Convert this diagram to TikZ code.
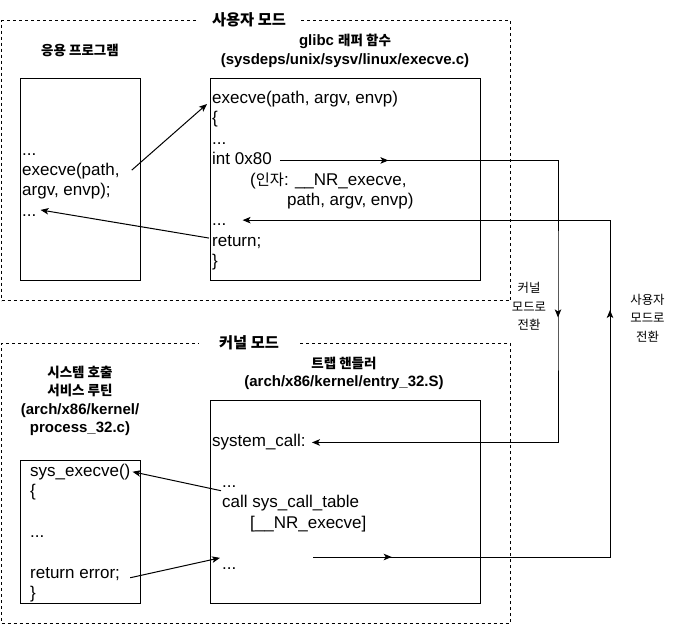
\documentclass[tikz,border=0pt]{standalone}
\usepackage{fontspec}
\setmainfont{Liberation Sans}
\newfontfamily\kr[Scale=0.9]{Noto Sans CJK KR}
\usetikzlibrary{arrows.meta,decorations.markings,calc}
\begin{document}
\begin{tikzpicture}[x=1pt,y=-1pt,
  modebox/.style={draw, line width=1pt, dash pattern=on 3pt off 3pt, inner sep=0pt, anchor=north west},
  codebox/.style={draw, line width=1pt, inner sep=0pt, anchor=north west},
  code/.style={font=\fontsize{17}{20.4}\selectfont, anchor=base west, inner sep=0pt, text height=12.5pt, text depth=4pt},
  ttl/.style={font=\bfseries\fontsize{15}{18.5}\selectfont, align=center, inner sep=0pt},
  modettl/.style={font=\bfseries\fontsize{17}{20}\selectfont\kr, fill=white, minimum width=100pt, inner sep=2pt},
  lbl/.style={font=\fontsize{13.8}{18.5}\selectfont\kr, align=center, inner sep=0pt},
  tipstyle/.tip={Stealth[length=8pt,width=6.5pt,inset=2pt]},
  conn/.style={line width=1pt, -tipstyle},
]
\useasboundingbox (0,0) rectangle (679,624);

% mode boxes
\node[modebox, minimum width=509pt, minimum height=280pt] (user) at (1,20) {};
\node[modebox, minimum width=509pt, minimum height=279.5pt] (kern) at (1,343) {};
\node[modettl] (tuser) at (249,19.5) {사용자 모드};
\node[modettl] (tkern) at (249,342.5) {커널 모드};

% code boxes
\node[codebox, minimum width=120pt, minimum height=202pt] (app) at (20,78) {};
\node[codebox, minimum width=270pt, minimum height=202pt] (glibc) at (210,78) {};
\node[codebox, minimum width=120pt, minimum height=143pt] (svc) at (20,460) {};
\node[codebox, minimum width=270pt, minimum height=203pt] (trap) at (210,400) {};

% titles
\node[ttl] (tapp) at (80,50) {\kr 응용 프로그램};
\node[ttl] (tglibc) at (345,51) {glibc {\kr 래퍼 함수}\\(sysdeps/unix/sysv/linux/execve.c)};
\node[ttl] (tsvc) at (80,401) {{\kr 시스템 호출}\\{\kr 서비스 루틴}\\(arch/x86/kernel/\\process\_32.c)};
\node[ttl] (ttrap) at (344,373.5) {{\kr 트랩 핸들러}\\(arch/x86/kernel/entry\_32.S)};

% app program text
\node[code] (a1) at (22,155) {...};
\node[code] (a2) at (22,175.4) {execve(path,};
\node[code] (a3) at (22,195.8) {argv, envp);};
\node[code] (a4) at (22,216.2) {...};

% glibc text
\node[code] (g1) at (212,103.5) {execve(path, argv, envp)};
\node[code] (g2) at (212,123.9) {\{};
\node[code] (g3) at (212,144.3) {...};
\node[code] (g4) at (212,164.7) {int 0x80};
\node[code] (g5) at (250,185.1) {({\kr 인자}: \_\_NR\_execve,};
\node[code] (g6) at (287,205.5) {path, argv, envp)};
\node[code] (g7) at (212,225.9) {...};
\node[code] (g8) at (212,246.3) {return;};
\node[code] (g9) at (212,266.7) {\}};

% trap handler text
\node[code] (t1) at (212,446.7) {system\_call:};
\node[code] (t3) at (222,487.5) {...};
\node[code] (t4) at (222,507.9) {call sys\_call\_table};
\node[code] (t5) at (250,528.3) {[\_\_NR\_execve]};
\node[code] (t7) at (222,569.1) {...};

% service routine text
\node[code] (s1) at (30,476) {sys\_execve()};
\node[code] (s2) at (30,496.4) {\{};
\node[code] (s4) at (30,537.2) {...};
\node[code] (s6) at (30,578) {return error;};
\node[code] (s7) at (30,598.4) {\}};

% side labels
\node[lbl] (lk) at (529,306.5) {커널\\모드로\\전환};
\node[lbl] (lu) at (647.5,318) {사용자\\모드로\\전환};

% connectors
\draw[conn] ($(a2.east)+(12,-1)$) -- ($(g1.west)+(-5,4.75)$);
\draw[conn] ($(g8.west)+(-3,-4)$) -- ($(a4.east)+(4,-2)$);

\coordinate (kx) at (558,300);
\draw[conn, postaction={decorate}, decoration={markings,
    mark=at position 108.5pt with {\arrow{tipstyle}},
    mark=at position 435pt with {\arrow{tipstyle}}}]
  ($(g4.east)+(8,0)$) -| (kx) |- ($(t1.east)+(6,0)$);

\coordinate (rs) at (313,557);
\coordinate (ux) at (610,400);
\draw[conn, postaction={decorate}, decoration={markings,
    mark=at position 78.7pt with {\arrow{tipstyle}},
    mark=at position 544pt with {\arrow{tipstyle}}}]
  (rs) -| (ux) |- ($(g7.east)+(16,-1.5)$);

\draw[conn] ($(t3.south west)+(-1,-1)$) -- ($(s1.east)+(2,0)$);
\draw[conn] ($(s6.east)+(10,4)$) -- ($(t7.west)+(-2,-7)$);
\end{tikzpicture}
\end{document}
